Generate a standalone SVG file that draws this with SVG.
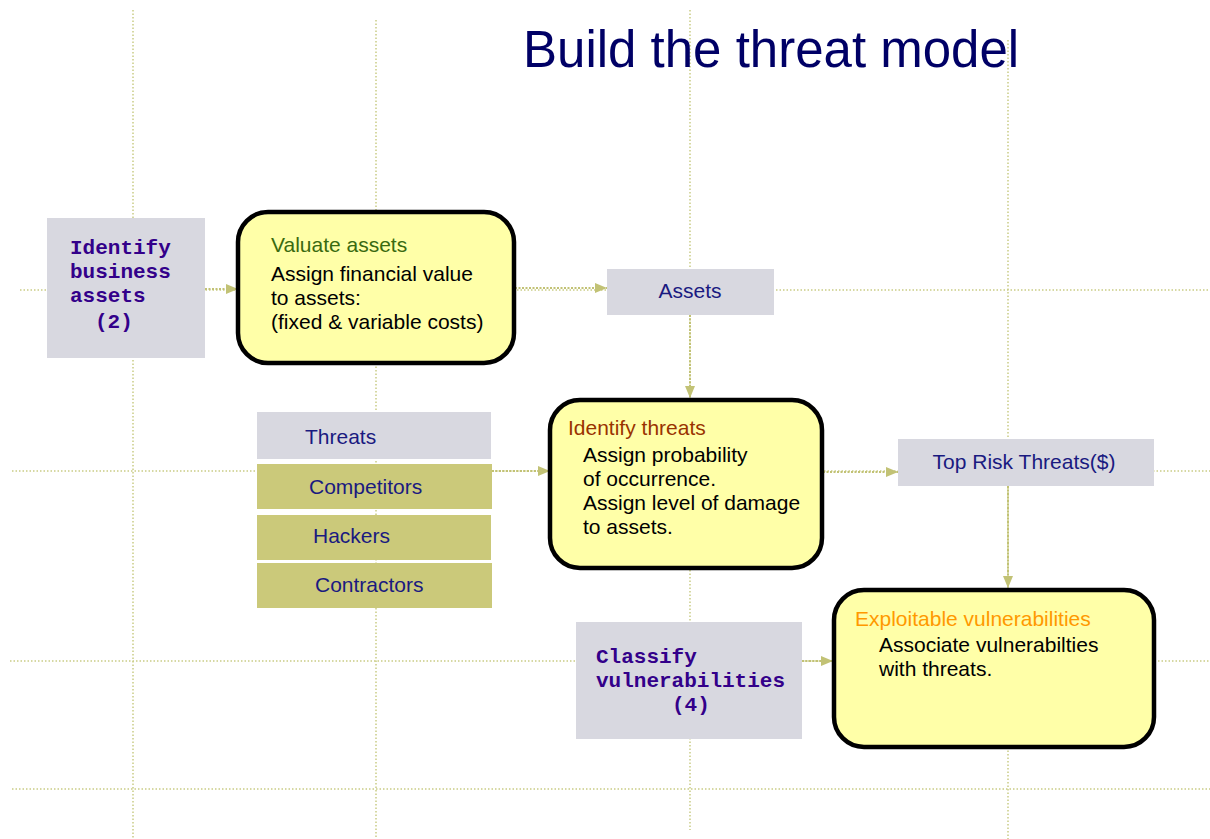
<svg xmlns="http://www.w3.org/2000/svg" width="1210" height="839" viewBox="0 0 1210 839">
<defs>
<style>
.grid{stroke:#c9cc85;stroke-width:1.5;stroke-dasharray:1.5 2;fill:none}
.conn{stroke:#c2c275;stroke-width:2;stroke-dasharray:2 1.5;fill:none}
.gray{fill:#d8d8e0}
.olive{fill:#cbc97a}
.proc{fill:#ffffa8;stroke:#000;stroke-width:4.5}
.sans{font-family:"Liberation Sans",Arial,sans-serif;font-size:21px}
.mono{font-family:"Liberation Mono","Courier New",monospace;font-size:21px;font-weight:bold;fill:#33008a}
.navy{fill:#1a1a80}
.blk{fill:#000}
</style>
<marker id="ah" viewBox="0 0 12 10" refX="12" refY="5" markerWidth="12" markerHeight="10" markerUnits="userSpaceOnUse" orient="auto">
<path d="M0,0 L12,5 L0,10 z" fill="#c2c275"/>
</marker>
</defs>
<rect width="1210" height="839" fill="#fff"/>
<g id="grid">
<line class="grid" x1="133" y1="10" x2="133" y2="839"/>
<line class="grid" x1="376" y1="20" x2="376" y2="839"/>
<line class="grid" x1="690" y1="10" x2="690" y2="830"/>
<line class="grid" x1="1008" y1="40" x2="1008" y2="839"/>
<line class="grid" x1="20" y1="290" x2="1210" y2="290"/>
<line class="grid" x1="12" y1="471" x2="1210" y2="471"/>
<line class="grid" x1="10" y1="661" x2="1210" y2="661"/>
<line class="grid" x1="12" y1="789" x2="1210" y2="789"/>
</g>
<text x="523" y="67" font-family="Liberation Sans,Arial,sans-serif" font-size="51" fill="#000066">Build the threat model</text>
<g id="connectors">
<line class="conn" x1="205" y1="289" x2="238" y2="289" marker-end="url(#ah)"/>
<line class="conn" x1="515" y1="288" x2="607" y2="288" marker-end="url(#ah)"/>
<line class="conn" x1="690" y1="315" x2="690" y2="398" marker-end="url(#ah)"/>
<line class="conn" x1="492" y1="471" x2="550" y2="471" marker-end="url(#ah)"/>
<line class="conn" x1="823" y1="472" x2="898" y2="472" marker-end="url(#ah)"/>
<line class="conn" x1="1008" y1="486" x2="1008" y2="588" marker-end="url(#ah)"/>
<line class="conn" x1="802" y1="661" x2="833" y2="661" marker-end="url(#ah)"/>
</g>
<g id="identify-business-assets">
<rect class="gray" x="47" y="218" width="158" height="140"/>
<text class="mono" x="70" y="254">Identify</text>
<text class="mono" x="70" y="278">business</text>
<text class="mono" x="70" y="302">assets</text>
<text class="mono" x="95" y="328">(2)</text>
</g>
<g id="valuate-assets">
<rect class="proc" x="238" y="212" width="276" height="151" rx="30"/>
<text class="sans" x="271" y="252" fill="#3a6a10" font-size="20">Valuate assets</text>
<text class="sans blk" x="271" y="281">Assign financial value</text>
<text class="sans blk" x="271" y="305">to assets:</text>
<text class="sans blk" x="271" y="329">(fixed &amp; variable costs)</text>
</g>
<g id="assets">
<rect class="gray" x="607" y="269" width="167" height="46"/>
<text class="sans navy" x="690" y="298" text-anchor="middle">Assets</text>
</g>
<g id="threats">
<rect class="gray" x="257" y="412" width="234" height="47"/>
<text class="sans navy" x="305" y="444">Threats</text>
</g>
<g id="competitors">
<rect class="olive" x="257" y="464" width="235" height="45"/>
<text class="sans navy" x="309" y="494">Competitors</text>
</g>
<g id="hackers">
<rect class="olive" x="257" y="515" width="234" height="45"/>
<text class="sans navy" x="313" y="543">Hackers</text>
</g>
<g id="contractors">
<rect class="olive" x="257" y="563" width="235" height="45"/>
<text class="sans navy" x="315" y="592">Contractors</text>
</g>
<g id="identify-threats">
<rect class="proc" x="550" y="400" width="272" height="168" rx="30"/>
<text class="sans" x="568" y="435" fill="#993300" font-size="20">Identify threats</text>
<text class="sans blk" x="583" y="462">Assign probability</text>
<text class="sans blk" x="583" y="486">of occurrence.</text>
<text class="sans blk" x="583" y="510">Assign level of damage</text>
<text class="sans blk" x="583" y="534">to assets.</text>
</g>
<g id="top-risk-threats">
<rect class="gray" x="898" y="439" width="256" height="47"/>
<text class="sans navy" x="1024" y="469" text-anchor="middle">Top Risk Threats($)</text>
</g>
<g id="classify-vulnerabilities">
<rect class="gray" x="576" y="622" width="226" height="117"/>
<text class="mono" x="596" y="663">Classify</text>
<text class="mono" x="596" y="687">vulnerabilities</text>
<text class="mono" x="672" y="711">(4)</text>
</g>
<g id="exploitable-vulnerabilities">
<rect class="proc" x="834" y="590" width="320" height="157" rx="30"/>
<text class="sans" x="855" y="626" fill="#ff9900" font-size="20">Exploitable vulnerabilities</text>
<text class="sans blk" x="879" y="652">Associate vulnerabilties</text>
<text class="sans blk" x="879" y="676">with threats.</text>
</g>
</svg>
